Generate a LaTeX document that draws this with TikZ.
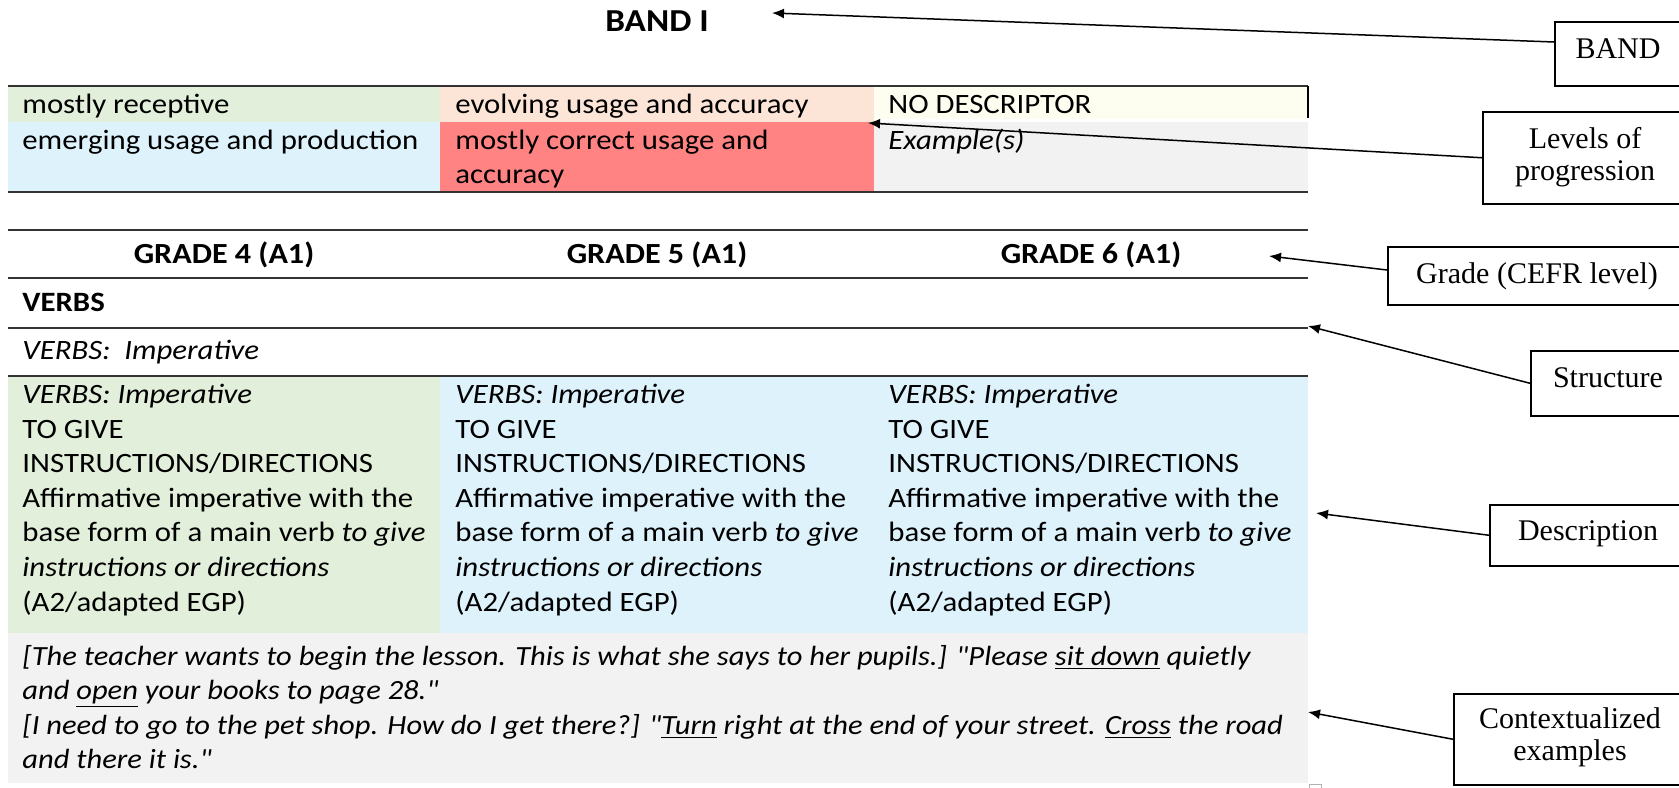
\documentclass[tikz,border=0pt]{standalone}
\usepackage{fontspec}
\setmainfont{Carlito}[FakeStretch=1.1, Ligatures=TeXOff]
\newfontfamily\timesfont{Liberation Serif}
\usetikzlibrary{arrows.meta}
\definecolor{cgreen}{HTML}{E2EFDA}
\definecolor{cpeach}{HTML}{FCE4D6}
\definecolor{ccream}{HTML}{FDFDF0}
\definecolor{cblue}{HTML}{DEF2FC}
\definecolor{cred}{HTML}{FF8383}
\definecolor{cgray}{HTML}{F2F2F2}
\definecolor{rulec}{HTML}{333333}
\tikzset{
 txt/.style={anchor=base west, inner sep=0pt, font={\fontsize{14pt}{17pt}\selectfont}},
 extxt/.style={anchor=base west, inner sep=0pt, font={\itshape\fontsize{13.88pt}{17pt}\selectfont}},
 txtb/.style={anchor=base, inner sep=0pt, font={\bfseries\fontsize{14.6pt}{18pt}\selectfont}},
 lbl/.style={anchor=base, inner sep=0pt, font={\timesfont\fontsize{15pt}{16pt}\selectfont}},
 callout/.style={draw=black, line width=0.75pt, inner sep=0pt, anchor=north west},
 rl/.style={draw=rulec, line width=0.6pt},
 arr/.style={draw=black, line width=0.75pt, -{Latex[length=6pt,width=5pt]}},
}
\newcommand\rowtext[4]{\node[txt] (#1) at (#2,#3) {#4};}
\newcommand\extext[4]{\node[extxt] (#1) at (#2,#3) {#4};}
\begin{document}
\begin{tikzpicture}[x=0.5pt,y=-0.5pt]
\path[use as bounding box] (0,0) rectangle (1679,787);
\clip (0,0) rectangle (1679,787);

% ---------- levels table ----------
\fill[cgreen] (8,86) rectangle (440,122);
\fill[cpeach] (440,86) rectangle (874,122);
\fill[ccream] (874,86) rectangle (1308,119);
\fill[cblue] (8,122) rectangle (440,192);
\fill[cred] (440,122) rectangle (874,192);
\fill[cgray] (874,122) rectangle (1308,192);
\draw[rl] (8,86) -- (1308,86);
\draw[rl] (8,192) -- (1308,192);
\draw[draw=black, line width=0.6pt] (1308,86) -- (1308,118);

% ---------- grade table ----------
\fill[cgreen] (8,376) rectangle (440,633);
\fill[cblue] (440,376) rectangle (1308,633);
\fill[cgray] (8,633) rectangle (1308,783);
\foreach \yy in {230,278,328,376} \draw[rl] (8,\yy) -- (1308,\yy);
\draw[gray!60, line width=0.4pt, fill=white] (1309,784) rectangle (1321,796);

% ---------- title ----------
\node[txtb, font={\bfseries\fontsize{16pt}{19pt}\selectfont}] (band) at (657,32) {BAND I};

% ---------- levels texts ----------
\rowtext{l1}{22}{113}{mostly receptive}
\rowtext{l2}{455}{113}{evolving usage and accuracy}
\rowtext{l3}{888}{113}{NO DESCRIPTOR}
\rowtext{l4}{22}{149}{emerging usage and production}
\rowtext{l5}{455}{149}{mostly correct usage and}
\rowtext{l6}{455}{183}{accuracy}
\rowtext{l7}{888}{149}{\textit{Example(s)}}

% ---------- grade headers ----------
\node[txtb] (g4) at (224,263) {GRADE 4 (A1)};
\node[txtb] (g5) at (657,263) {GRADE 5 (A1)};
\node[txtb] (g6) at (1091,263) {GRADE 6 (A1)};
\rowtext{verbs}{22}{311}{\textbf{VERBS}}
\rowtext{verbsimp}{22}{359}{\textit{VERBS:~ Imperative}}

% ---------- description columns ----------
\foreach \cx/\cn in {22/a,455/b,888/c}{
 \rowtext{d\cn1}{\cx}{403}{\textit{VERBS: Imperative}}
 \rowtext{d\cn2}{\cx}{438}{TO GIVE}
 \rowtext{d\cn3}{\cx}{472}{INSTRUCTIONS/DIRECTIONS}
 \rowtext{d\cn4}{\cx}{507}{Affirmative imperative with the}
 \rowtext{d\cn5}{\cx}{541}{base form of a main verb \textit{to give}}
 \rowtext{d\cn6}{\cx}{576}{\textit{instructions or directions}}
 \rowtext{d\cn7}{\cx}{611}{(A2/adapted EGP)}
}

% ---------- examples ----------
\extext{e1}{22}{665}{[The teacher wants to begin the lesson. This is what she says to her pupils.] "Please \underline{sit down} quietly}
\extext{e2}{22}{699}{and \underline{open} your books to page 28."}
\extext{e3}{22}{734}{[I need to go to the pet shop. How do I get there?] "\underline{Turn} right at the end of your street. \underline{Cross} the road}
\extext{e4}{22}{768}{and there it is."}

% ---------- callout boxes ----------
\node[callout, minimum width=66pt, minimum height=32pt] (bBand) at (1554,21) {};
\node[callout, minimum width=102pt, minimum height=46pt] (bLev) at (1482,111) {};
\node[callout, minimum width=149.5pt, minimum height=29pt] (bGrade) at (1387,246) {};
\node[callout, minimum width=78pt, minimum height=32.5pt] (bStruct) at (1530,350) {};
\node[callout, minimum width=98.5pt, minimum height=30.5pt] (bDesc) at (1489,504) {};
\node[callout, minimum width=116.5pt, minimum height=45.5pt] (bCtx) at (1453,693) {};

\node[lbl] (tb1) at (1618,58) {BAND};
\node[lbl] (tl1) at (1585,148) {Levels of};
\node[lbl] (tl2) at (1585,180) {progression};
\node[lbl] (tg1) at (1537,283) {Grade (CEFR level)};
\node[lbl] (ts1) at (1608,387) {Structure};
\node[lbl] (td1) at (1588,540) {Description};
\node[lbl] (tc1) at (1570,728) {Contextualized};
\node[lbl] (tc2) at (1570,760) {examples};

% ---------- arrows ----------
\coordinate (tBand) at (772,13);
\coordinate (sBand) at (1554,42);
\coordinate (tLev) at (868,123);
\coordinate (tGrade) at (1269,256);
\coordinate (sGrade) at (1387,270);
\coordinate (tStruct) at (1308,326);
\coordinate (tDesc) at (1316,513);
\coordinate (tCtx) at (1308,712);
\draw[arr] (sBand) -- (tBand);
\draw[arr] (bLev.west) -- (tLev);
\draw[arr] (sGrade) -- (tGrade);
\draw[arr] (bStruct.west) -- (tStruct);
\draw[arr] (bDesc.west) -- (tDesc);
\draw[arr] (bCtx.west) -- (tCtx);
\end{tikzpicture}
\end{document}
